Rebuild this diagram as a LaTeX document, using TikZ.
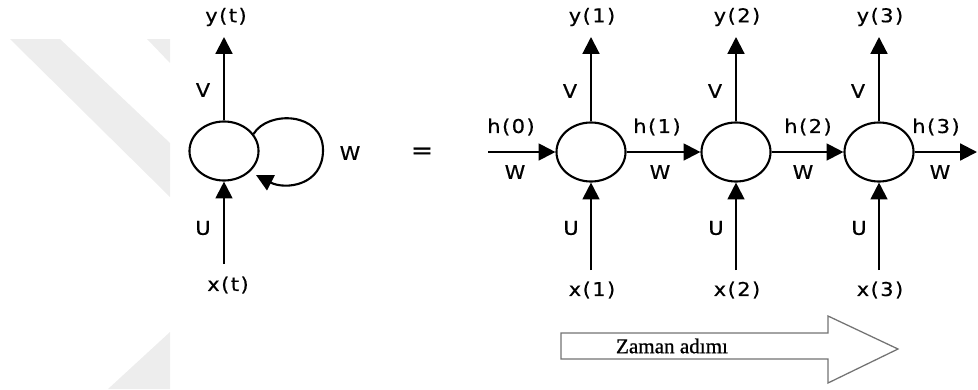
\documentclass[tikz,border=0pt]{standalone}
\usepackage{fontspec}
\usepackage{tikz}
\usetikzlibrary{arrows.meta,positioning,shapes.geometric}
\newfontfamily\lblfont[FakeStretch=1.1,LetterSpace=8,FakeBold=0.6]{DejaVu Sans}
\newfontfamily\stepfont[FakeBold=0.8]{Liberation Serif}

\begin{document}
\begin{tikzpicture}[
  x=0.025cm, y=-0.025cm,
  >={Triangle[length=12pt,width=12pt]},
  cell/.style={draw, ellipse, line width=1.5pt, minimum width=1.725cm,
    minimum height=1.475cm, inner sep=0pt},
  arr/.style={->, line width=1.5pt},
  lbl/.style={font=\lblfont\fontsize{13.5}{15}\selectfont, inner sep=0pt},
  wmark/.style={fill=black!7, draw=none},
  timearrow/.style={draw=black!55, line width=0.9pt, fill=white},
]
\useasboundingbox (0,0) rectangle (978,389);

% Watermark
\fill[wmark] (10,39) -- (60,39) -- (170,143) -- (170,197) -- cycle;
\fill[wmark] (147,39) -- (170,39) -- (170,63) -- cycle;
\fill[wmark] (170,332) -- (170,389) -- (108,389) -- cycle;

% Folded cell
\node[cell] (cellt) at (224,151) {};
\coordinate (yt) at (224,37);
\coordinate (xt) at (224,264);
\coordinate (loopend) at (256,175);
\node[lbl] (ytlbl) at (226,17) {y(t)};
\node[lbl] (xtlbl) at (228,285) {x(t)};
\node[lbl] (vt) at (203,90) {V};
\node[lbl] (ut) at (203,228) {U};
\node[lbl] (wt) at (350,153) {W};
\node[lbl, font=\lblfont\fontsize{17}{19}\selectfont] (eq) at (422,153) {=};

\draw[arr] (cellt.north) -- (yt);
\draw[arr] (xt) -- (cellt.south);
\draw[arr] (cellt.30) .. controls (268,110) and (323,112) .. (323,150)
  .. controls (323,186) and (285,190) .. (loopend);

% Unfolded cells
\node[cell] (cell1) at (591,152) {};
\node[cell] (cell2) at (736,152) {};
\node[cell] (cell3) at (879,152) {};

\coordinate (y1) at (591,37);
\coordinate (y2) at (736,37);
\coordinate (y3) at (879,37);
\coordinate (x1) at (591,270);
\coordinate (x2) at (736,270);
\coordinate (x3) at (879,270);
\coordinate (h0) at (488,152);
\coordinate (hout) at (977,152);

\node[lbl] (y1lbl) at (592,17) {y(1)};
\node[lbl] (y2lbl) at (737,17) {y(2)};
\node[lbl] (y3lbl) at (880,17) {y(3)};
\node[lbl] (x1lbl) at (592,290) {x(1)};
\node[lbl] (x2lbl) at (737,290) {x(2)};
\node[lbl] (x3lbl) at (880,290) {x(3)};
\node[lbl] (v1) at (570,91) {V};
\node[lbl] (v2) at (715,91) {V};
\node[lbl] (v3) at (858,91) {V};
\node[lbl] (u1) at (571,228) {U};
\node[lbl] (u2) at (716,228) {U};
\node[lbl] (u3) at (859,228) {U};
\node[lbl] (h0lbl) at (511,127) {h(0)};
\node[lbl] (h1lbl) at (657,127) {h(1)};
\node[lbl] (h2lbl) at (808,127) {h(2)};
\node[lbl] (h3lbl) at (936,127) {h(3)};
\node[lbl] (w0) at (515,172) {W};
\node[lbl] (w1) at (660,172) {W};
\node[lbl] (w2) at (803,172) {W};
\node[lbl] (w3) at (940,172) {W};

\draw[arr] (cell1.north) -- (y1);
\draw[arr] (cell2.north) -- (y2);
\draw[arr] (cell3.north) -- (y3);
\draw[arr] (x1) -- (cell1.south);
\draw[arr] (x2) -- (cell2.south);
\draw[arr] (x3) -- (cell3.south);
\draw[arr] (h0) -- (cell1.west);
\draw[arr] (cell1.east) -- (cell2.west);
\draw[arr] (cell2.east) -- (cell3.west);
\draw[arr] (cell3.east) -- (hout);

% Time step arrow
\draw[timearrow] (561,333) -- (828,333) -- (828,316) -- (898,349)
  -- (828,383) -- (828,359) -- (561,359) -- cycle;
\node[font=\stepfont\fontsize{15}{17}\selectfont, inner sep=0pt] (zaman)
  at (672,346) {Zaman adımı};
\end{tikzpicture}
\end{document}
